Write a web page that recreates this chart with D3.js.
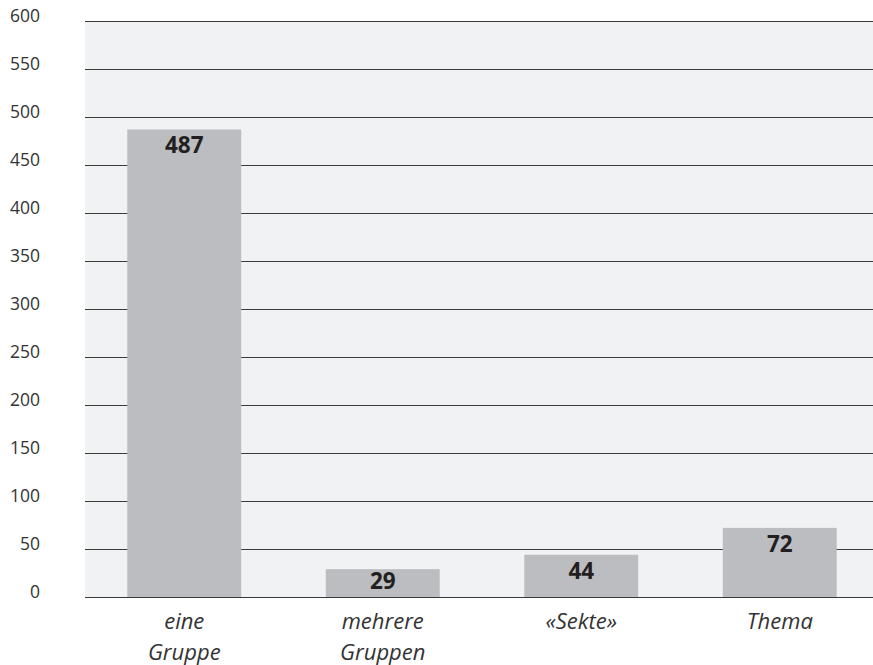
<!DOCTYPE html>
<html>
<head>
<meta charset="utf-8">
<script src="https://cdn.jsdelivr.net/npm/d3@7"></script>
<style>
  html, body { margin: 0; padding: 0; background: #ffffff; }
  svg { display: block; }
</style>
</head>
<body>
<svg id="chart" width="873" height="665"></svg>
<script>
// Category labels (two lines each where wrapped)
const categories = [["eine", "Gruppe"], ["mehrere", "Gruppen"], ["«Sekte»"], ["Thema"]];
const values = [487, 29, 44, 72];
const yTicks = [0, 50, 100, 150, 200, 250, 300, 350, 400, 450, 500, 550, 600];

(function () {
  const svg = d3.select("#chart");
  const W = 873;
  const mLeft = 85, mRight = 879, mTop = 21, mBottom = 597;
  const font = "'Open Sans', sans-serif";

  const keys = categories.map((c, i) => i);
  const x = d3.scaleBand().domain(keys).range([mLeft, mRight])
    .paddingInner(0.426).paddingOuter(0.213);
  const y = d3.scaleLinear().domain([0, 600]).range([mBottom, mTop]);

  // plot background
  svg.append("rect")
    .attr("x", mLeft).attr("y", mTop)
    .attr("width", W - mLeft).attr("height", mBottom - mTop)
    .attr("fill", "#f1f2f4");

  // gridlines
  svg.append("g").selectAll("line").data(yTicks).join("line")
    .attr("x1", mLeft).attr("x2", W)
    .attr("y1", d => Math.round(y(d)) + 0.5).attr("y2", d => Math.round(y(d)) + 0.5)
    .attr("stroke", "#3a3a3a").attr("stroke-width", 1.2);

  // y tick labels
  svg.append("g").selectAll("text").data(yTicks).join("text")
    .attr("x", 40).attr("y", d => y(d) - 6)
    .attr("text-anchor", "end").attr("dominant-baseline", "central")
    .attr("font-family", font).attr("font-size", 17.5)
    .attr("fill", "#333333")
    .text(d => d);

  // bars
  svg.append("g").selectAll("rect").data(values).join("rect")
    .attr("x", (d, i) => x(i)).attr("width", x.bandwidth())
    .attr("y", d => y(d)).attr("height", d => y(0) - y(d))
    .attr("fill", "#bcbdc0");

  // baseline drawn over the bars
  svg.append("line")
    .attr("x1", mLeft).attr("x2", W)
    .attr("y1", Math.round(y(0)) + 0.5).attr("y2", Math.round(y(0)) + 0.5)
    .attr("stroke", "#3a3a3a").attr("stroke-width", 1.2);

  // value labels inside bar tops
  svg.append("g").selectAll("text").data(values).join("text")
    .attr("x", (d, i) => x(i) + x.bandwidth() / 2)
    .attr("y", d => Math.min(y(d) + 24, y(0) - 8))
    .attr("text-anchor", "middle")
    .attr("font-family", font).attr("font-size", 22.5)
    .attr("font-weight", "bold").attr("fill", "#231f20")
    .text(d => d);

  // category labels
  const cat = svg.append("g").selectAll("text").data(categories).join("text")
    .attr("x", (d, i) => x(i) + x.bandwidth() / 2)
    .attr("y", 629)
    .attr("text-anchor", "middle")
    .attr("font-family", font).attr("font-size", 22)
    .attr("font-style", "italic").attr("fill", "#333333");
  cat.selectAll("tspan").data(d => d).join("tspan")
    .attr("x", function () { return d3.select(this.parentNode).attr("x"); })
    .attr("dy", (d, i) => i === 0 ? 0 : 31)
    .text(d => d);
})();
</script>
</body>
</html>
